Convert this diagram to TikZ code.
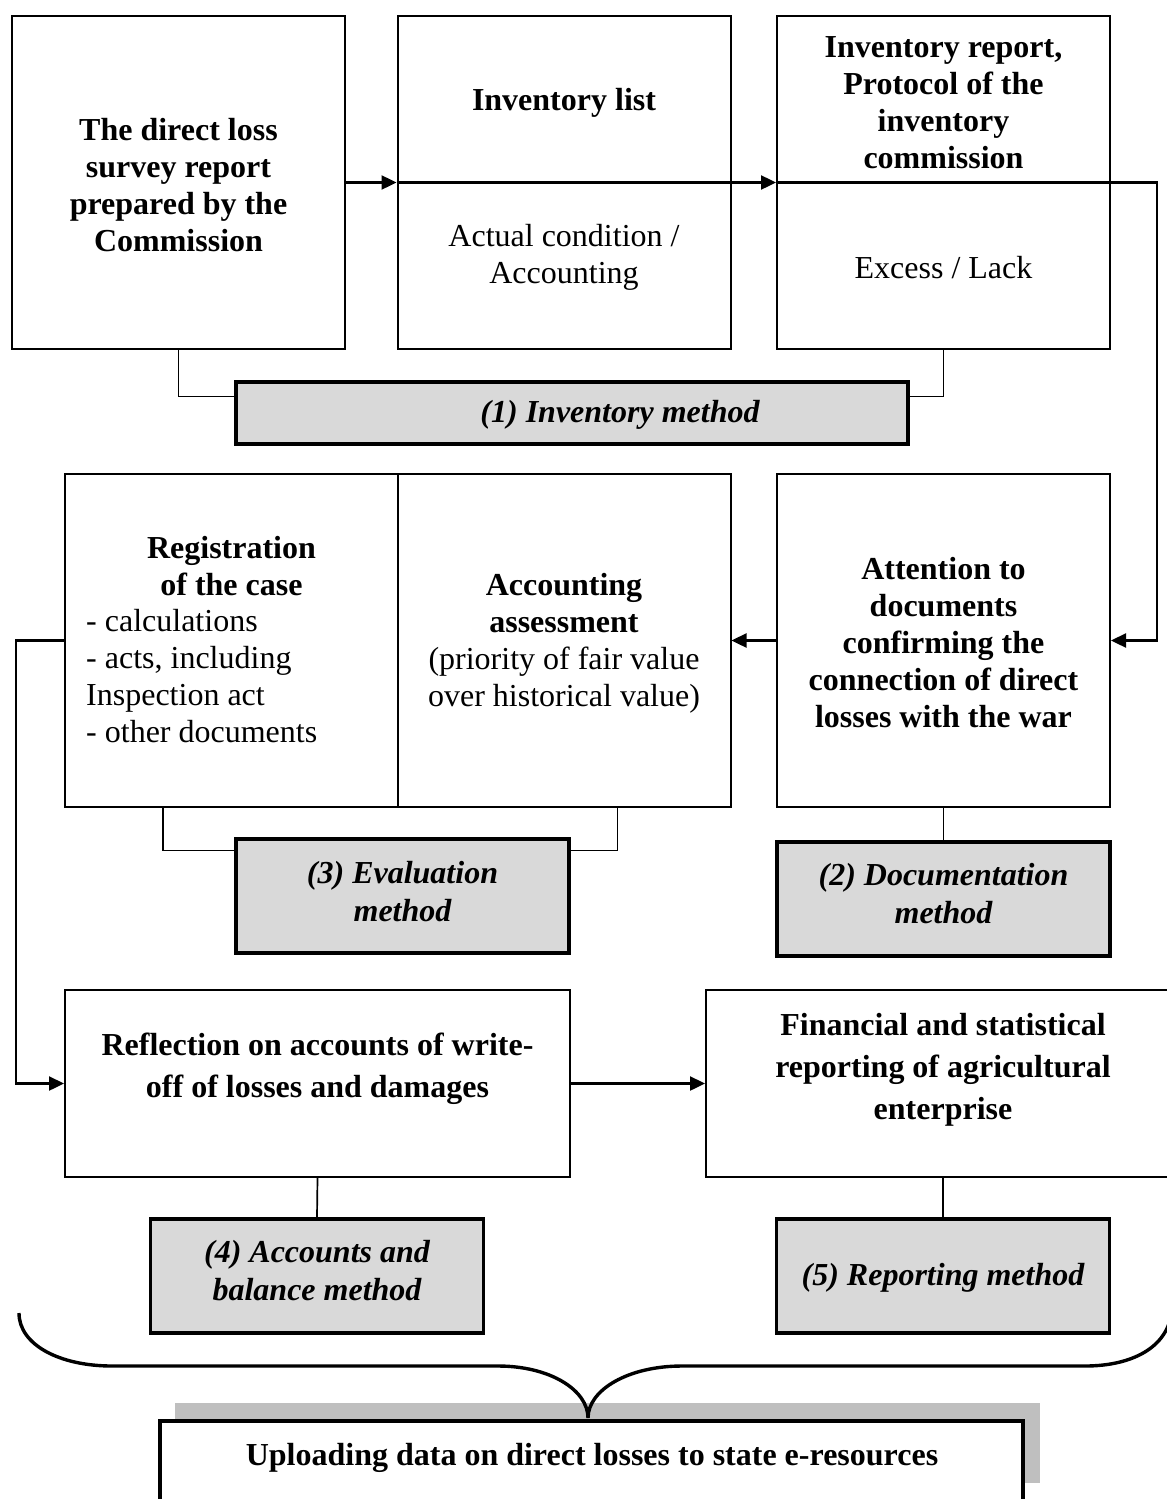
\documentclass[tikz,border=0pt]{standalone}
\usepackage{fontspec}
\setmainfont{Liberation Serif}
\usetikzlibrary{arrows.meta,calc}
\definecolor{mgray}{RGB}{217,217,217}
\definecolor{sgray}{RGB}{191,191,191}
\begin{document}
\begin{tikzpicture}[x=1pt,y=-1pt,
  box/.style={draw,line width=2pt,fill=white,inner sep=0pt},
  mbox/.style={draw,line width=3.8pt,fill=mgray,inner sep=0pt},
  txt/.style={font=\fontsize{32}{37}\selectfont,align=center,inner sep=0pt},
  btxt/.style={font=\fontsize{32}{37}\selectfont\bfseries,align=center,inner sep=0pt},
  wtxt/.style={font=\fontsize{32}{42}\selectfont\bfseries,align=center,inner sep=0pt},
  mtxt/.style={font=\fontsize{32}{38}\selectfont\bfseries\itshape,align=center,inner sep=0pt},
  arr/.style={line width=2.4pt,-{Triangle[length=15pt,width=14pt]}},
  link/.style={line width=1.7pt},
  brace/.style={line width=3.4pt}
]
\useasboundingbox (0,0) rectangle (1167,1499);
\begin{scope}
\clip (0,0) rectangle (1167,1499);
% row 1
\node[box,minimum width=333pt,minimum height=333pt] (A) at (178.5,182.5) {};
\node[box,minimum width=333pt,minimum height=333pt] (B) at (564,182.5) {};
\node[box,minimum width=333pt,minimum height=333pt] (C) at (943.5,182.5) {};
\node[mbox,minimum width=672pt,minimum height=62pt] (M1) at (572,413) {};
% row 2
\node[box,minimum width=333pt,minimum height=333pt] (D1) at (231.5,640.5) {};
\node[box,minimum width=333pt,minimum height=333pt] (D2) at (564,640.5) {};
\node[box,minimum width=333pt,minimum height=333pt] (E) at (943.5,640.5) {};
\node[mbox,minimum width=333pt,minimum height=114pt] (M3) at (402.5,896) {};
\node[mbox,minimum width=333pt,minimum height=114pt] (M2) at (943.5,899) {};
% row 3
\node[box,minimum width=505pt,minimum height=187pt] (F) at (317.5,1083.5) {};
\node[box,minimum width=474pt,minimum height=187pt] (G) at (943,1083.5) {};
\node[mbox,minimum width=333pt,minimum height=114pt] (M4) at (317,1276) {};
\node[mbox,minimum width=333pt,minimum height=114pt] (M5) at (943,1276) {};
% bottom
\fill[sgray] (175,1403) rectangle (1040,1483);
\node[draw,line width=4pt,fill=white,minimum width=863pt,minimum height=110pt,inner sep=0pt] (U) at (591.5,1476) {};
\coordinate (bL) at (19,1313);
\coordinate (bTip) at (588,1418);
\coordinate (bR) at (1172,1305);
\draw[brace] (bL) .. controls (19,1345) and (60,1366) .. (112,1366) -- (498,1366)
  .. controls (550,1366) and (588,1390) .. (bTip)
  .. controls (588,1390) and (628,1366) .. (682,1366) -- (1085,1366)
  .. controls (1135,1366) and (1172,1345) .. (bR);
% connectors
\coordinate (rloop) at (1157,182.5);
\coordinate (lloop) at (16,640.5);
\draw[arr] (A.east) -- (B.west);
\draw[arr] (B.west) -- (C.west);
\draw[arr] (C.west) -- (rloop) |- (E.east);
\draw[arr] (E.west) -- (D2.east);
\draw[arr] (D1.west) -- (lloop) |- (F.west);
\draw[arr] (F.east) -- (G.west);
\draw[link] (A.south) |- ($(M1.north west)!0.25!(M1.south west)$);
\draw[link] (C.south) |- ($(M1.north east)!0.25!(M1.south east)$);
\coordinate (d1s) at ($(D1.south west)+(99,0)$);
\coordinate (d2s) at ($(D2.south east)+(-114,0)$);
\draw[link] (d1s) |- ($(M3.north west)!0.114!(M3.south west)$);
\draw[link] (d2s) |- ($(M3.north east)!0.114!(M3.south east)$);
\draw[link] (E.south) -- (M2.north);
\draw[link] (F.south) -- (M4.north);
\draw[link] (G.south) -- (M5.north);
% texts
\node[btxt] (tA) at (178.5,185) {The direct loss\\survey report\\prepared by the\\Commission};
\node[btxt] (tB1) at (564,103) {Inventory list};
\node[txt] (tB2) at (564,257) {Actual condition /\\Accounting};
\node[btxt] (tC1) at (943.5,103) {Inventory report,\\Protocol of the\\inventory\\commission};
\node[txt] (tC2) at (943.5,268) {Excess / Lack};
\node[mtxt] (tM1) at (620,415) {(1) Inventory method};
\node[btxt] (tD1) at (231.5,566) {Registration\\of the case};
\node[txt,align=left,anchor=west] (tD1b) at (86,676.5) {- calculations\\- acts, including\\Inspection act\\- other documents};
\node[txt] (tD2) at (564,643) {\textbf{Accounting}\\\textbf{assessment}\\(priority of fair value\\over historical value)};
\node[btxt] (tE) at (943.5,643) {Attention to\\documents\\confirming the\\connection of direct\\losses with the war};
\node[mtxt] (tM3) at (402.5,892) {(3) Evaluation\\method};
\node[mtxt] (tM2) at (943.5,894) {(2) Documentation\\method};
\node[wtxt] (tF) at (317.5,1069) {Reflection on accounts of write-\\off of losses and damages};
\node[wtxt] (tG) at (943,1069.5) {Financial and statistical\\reporting of agricultural\\enterprise};
\node[mtxt] (tM4) at (317,1271) {(4) Accounts and\\balance method};
\node[mtxt] (tM5) at (943,1278) {(5) Reporting method};
\node[btxt] (tU) at (592,1458) {Uploading data on direct losses to state e-resources};
\end{scope}
\end{tikzpicture}
\end{document}
